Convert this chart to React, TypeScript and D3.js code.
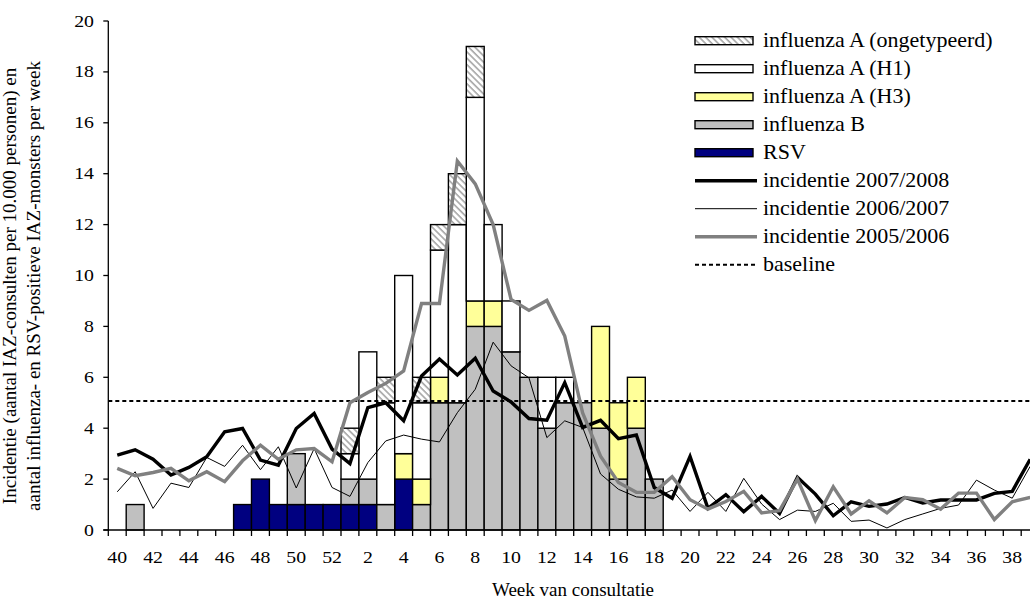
import React, { useEffect, useRef } from 'react';
import * as d3 from 'd3';

// weeks 40/2007 .. 39/2008
const weeks = [
  40, 41, 42, 43, 44, 45, 46, 47, 48, 49, 50, 51, 52,
  1, 2, 3, 4, 5, 6, 7, 8, 9, 10, 11, 12, 13,
  14, 15, 16, 17, 18, 19, 20, 21, 22, 23, 24, 25, 26,
  27, 28, 29, 30, 31, 32, 33, 34, 35, 36, 37, 38, 39,
];
const yTicks = [0, 2, 4, 6, 8, 10, 12, 14, 16, 18, 20];
const baseline = 5.07;

// positive samples per week (stacked bars)
const rsv = [
  0, 0, 0, 0, 0, 0, 0, 1, 2, 1, 1, 1, 1,
  1, 1, 0, 2, 0, 0, 0, 0, 0, 0, 0, 0, 0,
  0, 0, 0, 0, 0, 0, 0, 0, 0, 0, 0, 0, 0,
  0, 0, 0, 0, 0, 0, 0, 0, 0, 0, 0, 0, 0,
];
const influenzaB = [
  0, 1, 0, 0, 0, 0, 0, 0, 0, 0, 2, 0, 0,
  1, 1, 1, 0, 1, 5, 5, 8, 8, 7, 6, 4, 5,
  5, 4, 2, 4, 2, 0, 0, 0, 0, 0, 0, 0, 0,
  0, 0, 0, 0, 0, 0, 0, 0, 0, 0, 0, 0, 0,
];
const influenzaH3 = [
  0, 0, 0, 0, 0, 0, 0, 0, 0, 0, 0, 0, 0,
  0, 0, 0, 1, 1, 1, 0, 1, 1, 0, 0, 0, 0,
  0, 4, 3, 2, 0, 0, 0, 0, 0, 0, 0, 0, 0,
  0, 0, 0, 0, 0, 0, 0, 0, 0, 0, 0, 0, 0,
];
const influenzaH1 = [
  0, 0, 0, 0, 0, 0, 0, 0, 0, 0, 0, 0, 0,
  1, 5, 4, 7, 3, 5, 7, 8, 3, 2, 0, 2, 1,
  0, 0, 0, 0, 0, 0, 0, 0, 0, 0, 0, 0, 0,
  0, 0, 0, 0, 0, 0, 0, 0, 0, 0, 0, 0, 0,
];
const influenzaA = [
  0, 0, 0, 0, 0, 0, 0, 0, 0, 0, 0, 0, 0,
  1, 0, 1, 0, 1, 1, 2, 2, 0, 0, 0, 0, 0,
  0, 0, 0, 0, 0, 0, 0, 0, 0, 0, 0, 0, 0,
  0, 0, 0, 0, 0, 0, 0, 0, 0, 0, 0, 0, 0,
];

// ILI incidence per 10.000
const inc0708 = [
  2.94, 3.15, 2.78, 2.16, 2.46, 2.88, 3.86, 3.99, 2.75, 2.55, 3.99, 4.58, 3.18,
  2.61, 4.81, 5.0, 4.29, 6.05, 6.72, 6.09, 6.75, 5.46, 5.03, 4.38, 4.31, 5.79,
  4.03, 4.31, 3.59, 3.73, 1.67, 1.25, 2.89, 0.85, 1.39, 0.72, 1.32, 0.65, 2.07,
  1.41, 0.56, 1.11, 0.93, 1.02, 1.28, 1.06, 1.18, 1.18, 1.18, 1.44, 1.52, 2.78,
];
const inc0607 = [
  1.5, 2.29, 0.85, 1.84, 1.67, 2.85, 2.5, 3.33, 2.37, 3.27, 1.65, 3.2, 1.67,
  1.32, 2.65, 3.5, 3.73, 3.57, 3.46, 4.61, 5.53, 7.38, 6.45, 5.98, 3.63, 4.29,
  4.03, 2.2, 1.6, 1.3, 1.25, 1.57, 0.73, 1.48, 0.73, 2.03, 1.02, 0.41, 0.78,
  0.73, 1.05, 0.34, 0.39, 0.08, 0.41, 0.63, 0.85, 0.98, 1.96, 1.57, 1.25, 2.5,
];
const inc0506 = [
  2.42, 2.13, 2.26, 2.42, 1.93, 2.29, 1.9, 2.72, 3.33, 2.78, 3.15, 3.2, 2.68,
  5.0, 5.4, 5.76, 6.25, 8.9, 8.9, 14.5, 13.6, 12.0, 9.06, 8.63, 9.02, 7.62,
  4.6, 2.9, 1.87, 1.48, 1.48, 2.09, 1.19, 0.82, 1.12, 1.52, 0.67, 0.76, 2.0,
  0.37, 1.7, 0.63, 1.15, 0.67, 1.28, 1.19, 0.82, 1.45, 1.45, 0.41, 1.11, 1.28,
];

const FONT = '"Liberation Serif", "Times New Roman", serif';

export default function App() {
  const ref = useRef<SVGSVGElement>(null);

  useEffect(() => {
    const svg = d3.select(ref.current);
    svg.selectAll('*').remove();

    const left = 108.3;
    const bandW = 17.9;
    const x = d3
      .scaleBand<string>()
      .domain(weeks.map(String))
      .range([left, left + bandW * weeks.length])
      .padding(0);
    const y = d3.scaleLinear().domain([0, 20]).range([530, 21]);
    const bw = x.bandwidth();
    const cx = (i: number) => (x(String(weeks[i])) as number) + bw / 2;

    const defs = svg.append('defs');
    const pat = defs
      .append('pattern')
      .attr('id', 'hatch')
      .attr('patternUnits', 'userSpaceOnUse')
      .attr('width', 4.5)
      .attr('height', 4.5)
      .attr('patternTransform', 'rotate(-45)');
    pat.append('rect').attr('width', 4.5).attr('height', 4.5).attr('fill', '#fff');
    pat
      .append('line')
      .attr('x1', 1)
      .attr('x2', 1)
      .attr('y1', 0)
      .attr('y2', 4.5)
      .attr('stroke', '#a6a6a6')
      .attr('stroke-width', 1.6);

    // stacked bars
    const rows = weeks.map((w, i) => ({
      week: String(w),
      rsv: rsv[i],
      b: influenzaB[i],
      h3: influenzaH3[i],
      h1: influenzaH1[i],
      a: influenzaA[i],
    }));
    const keys = ['rsv', 'b', 'h3', 'h1', 'a'];
    const fills: Record<string, string> = {
      rsv: '#000080',
      b: '#c0c0c0',
      h3: '#ffff99',
      h1: '#ffffff',
      a: 'url(#hatch)',
    };
    const stack = d3.stack<any>().keys(keys)(rows);

    svg
      .append('g')
      .selectAll('g')
      .data(stack)
      .enter()
      .append('g')
      .attr('fill', (d) => fills[d.key])
      .selectAll('rect')
      .data((d) => d.filter((s) => s[1] - s[0] > 0))
      .enter()
      .append('rect')
      .attr('x', (d) => x(d.data.week) as number)
      .attr('width', bw)
      .attr('y', (d) => y(d[1]))
      .attr('height', (d) => y(d[0]) - y(d[1]))
      .attr('stroke', '#000')
      .attr('stroke-width', 1.4);

    // baseline
    svg
      .append('line')
      .attr('x1', left)
      .attr('x2', 1030)
      .attr('y1', y(baseline))
      .attr('y2', y(baseline))
      .attr('stroke', '#000')
      .attr('stroke-width', 2)
      .attr('stroke-dasharray', '4,3');

    // incidence lines
    const line = d3
      .line<number>()
      .x((d, i) => cx(i))
      .y((d) => y(d));
    const series = [
      { data: inc0708, color: '#000', width: 3.4 },
      { data: inc0607, color: '#000', width: 1 },
      { data: inc0506, color: '#808080', width: 3.4 },
    ];
    series.forEach((s) => {
      svg
        .append('path')
        .datum(s.data)
        .attr('d', line)
        .attr('fill', 'none')
        .attr('stroke', s.color)
        .attr('stroke-width', s.width)
        .attr('stroke-linejoin', 'miter');
    });

    // axes
    const axis = svg.append('g').attr('stroke', '#000').attr('stroke-width', 1.3);
    axis.append('line').attr('x1', left).attr('x2', left).attr('y1', y(20)).attr('y2', y(0));
    axis.append('line').attr('x1', left - 5).attr('x2', 1040).attr('y1', y(0)).attr('y2', y(0));
    axis
      .selectAll('.yt')
      .data(yTicks)
      .enter()
      .append('line')
      .attr('x1', left - 5)
      .attr('x2', left)
      .attr('y1', (d) => y(d))
      .attr('y2', (d) => y(d));
    axis
      .selectAll('.xt')
      .data(weeks)
      .enter()
      .append('line')
      .attr('x1', (d) => x(String(d)) as number)
      .attr('x2', (d) => x(String(d)) as number)
      .attr('y1', y(0))
      .attr('y2', y(0) + 6);

    svg
      .selectAll('.ylab')
      .data(yTicks)
      .enter()
      .append('text')
      .attr('transform', (d) => `translate(94,${y(d) + 5.5}) scale(1.2,1)`)
      .attr('text-anchor', 'end')
      .style('font-family', FONT)
      .style('font-size', '16.5px')
      .text((d) => d);

    svg
      .selectAll('.xlab')
      .data(weeks.filter((w, i) => i % 2 === 0))
      .enter()
      .append('text')
      .attr('transform', (d) => `translate(${(x(String(d)) as number) + bw / 2},563) scale(1.2,1)`)
      .attr('text-anchor', 'middle')
      .style('font-family', FONT)
      .style('font-size', '16.5px')
      .text((d) => d);

    svg
      .append('text')
      .attr('x', 573)
      .attr('y', 596)
      .attr('text-anchor', 'middle')
      .style('font-family', FONT)
      .style('font-size', '19px')
      .text('Week van consultatie');

    const yTitle = [
      'Incidentie (aantal IAZ-consulten per 10.000 personen) en',
      'aantal influenza- en RSV-positieve IAZ-monsters per week',
    ];
    svg
      .selectAll('.ytitle')
      .data(yTitle)
      .enter()
      .append('text')
      .attr('transform', (d, i) => `translate(${16 + i * 24},286) rotate(-90)`)
      .attr('text-anchor', 'middle')
      .style('font-family', FONT)
      .style('font-size', '19px')
      .text((d) => d);

    // legend
    const legendItems = [
      { label: 'influenza A (ongetypeerd)', kind: 'box', fill: 'url(#hatch)' },
      { label: 'influenza A (H1)', kind: 'box', fill: '#ffffff' },
      { label: 'influenza A (H3)', kind: 'box', fill: '#ffff99' },
      { label: 'influenza B', kind: 'box', fill: '#c0c0c0' },
      { label: 'RSV', kind: 'box', fill: '#000080' },
      { label: 'incidentie 2007/2008', kind: 'line', color: '#000', width: 3.4 },
      { label: 'incidentie 2006/2007', kind: 'line', color: '#000', width: 1 },
      { label: 'incidentie 2005/2006', kind: 'line', color: '#808080', width: 3.4 },
      { label: 'baseline', kind: 'dash', color: '#000', width: 2 },
    ];
    const lg = svg
      .selectAll('.leg')
      .data(legendItems)
      .enter()
      .append('g')
      .attr('transform', (d, i) => `translate(695,${40.7 + i * 28})`);
    lg.filter((d) => d.kind === 'box')
      .append('rect')
      .attr('x', 0)
      .attr('y', -4)
      .attr('width', 58)
      .attr('height', 8)
      .attr('fill', (d: any) => d.fill)
      .attr('stroke', '#000')
      .attr('stroke-width', 1.4);
    lg.filter((d) => d.kind !== 'box')
      .append('line')
      .attr('x1', 0)
      .attr('x2', 62)
      .attr('y1', 0)
      .attr('y2', 0)
      .attr('stroke', (d: any) => d.color)
      .attr('stroke-width', (d: any) => d.width)
      .attr('stroke-dasharray', (d) => (d.kind === 'dash' ? '4,3' : null));
    lg.append('text')
      .attr('transform', 'translate(68,6.5) scale(1.1,1)')
      .style('font-family', FONT)
      .style('font-size', '20px')
      .text((d) => d.label);
  }, []);

  return (
    <svg
      ref={ref}
      width={1030}
      height={601}
      style={{ position: 'absolute', left: 0, top: 0, background: '#fff' }}
    />
  );
}
